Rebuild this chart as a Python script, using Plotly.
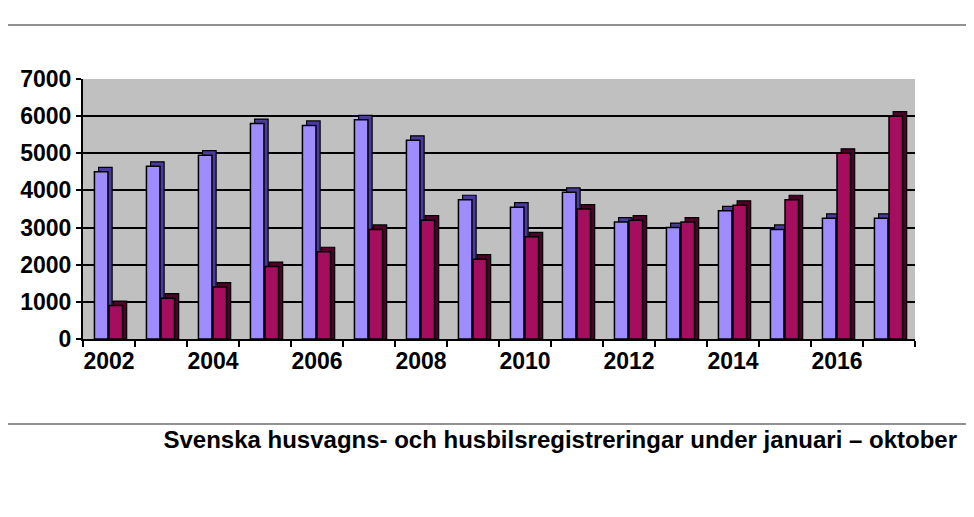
import plotly.graph_objects as go

# Registreringar per år, januari - oktober
years = list(range(2002, 2018))
husvagnar = [4500, 4650, 4950, 5800, 5750, 5900, 5350, 3750,
             3550, 3950, 3150, 3000, 3450, 2950, 3250, 3250]
husbilar = [900, 1100, 1400, 1950, 2350, 2950, 3200, 2150,
            2750, 3500, 3200, 3150, 3600, 3750, 5000, 6000]

year_labels = [str(y) for y in years[::2]]
y_ticks = list(range(0, 8000, 1000))

depth_y = 120      # fake 3D depth, in data units
depth_x = 0.08

fig = go.Figure()

series = [
    ("Husvagnar", husvagnar, -0.28, "#9f8cff", "#4a3c9c"),
    ("Husbilar", husbilar, 0.0, "#a50d5e", "#4e0029"),
]

for name, vals, off, col, dark in series:
    # side/top face behind the front face
    fig.add_trace(go.Bar(
        x=years, y=[v + depth_y for v in vals],
        offset=off + depth_x, width=0.26,
        marker=dict(color=dark, line=dict(color="black", width=1.2)),
        hoverinfo="skip", showlegend=False,
    ))
    fig.add_trace(go.Bar(
        x=years, y=vals, name=name,
        offset=off, width=0.26,
        marker=dict(color=col, line=dict(color="black", width=1.5)),
        showlegend=False,
    ))

fig.update_layout(
    barmode="overlay",
    width=974, height=517,
    margin=dict(l=73, r=67, t=71, b=186),
    plot_bgcolor="#c0c0c0",
    paper_bgcolor="white",
    font=dict(family="Arial, Liberation Sans, sans-serif", size=23, color="black"),
    title=dict(
        text="<b>Svenska husvagns- och husbilsregistreringar under januari – oktober</b>",
        font=dict(size=24, color="black"),
        xref="container", x=949 / 974, xanchor="right",
        yref="container", y=1 - 432 / 517, yanchor="middle",
    ),
    xaxis=dict(
        range=[2001.5, 2017.5],
        tickvals=years[::2],
        ticktext=["<b>%s</b>" % t for t in year_labels],
        ticks="",
        showgrid=False,
        showline=True, linecolor="black", linewidth=2,
        minor=dict(tickvals=[y - 0.5 for y in years] + [years[-1] + 0.5],
                   ticks="outside", ticklen=6, tickwidth=2, tickcolor="black"),
    ),
    yaxis=dict(
        range=[0, 7000],
        tickvals=y_ticks,
        ticktext=["<b>%d</b>" % t for t in y_ticks],
        ticks="outside", ticklen=5, tickwidth=2, tickcolor="black",
        showgrid=True, gridcolor="black", gridwidth=2,
        zeroline=False,
        showline=True, linecolor="black", linewidth=2,
    ),
    shapes=[
        dict(type="line", xref="paper", yref="paper",
             x0=-81 / 834, x1=893 / 834, y0=(339 - 25) / 260, y1=(339 - 25) / 260,
             line=dict(color="#6e6e6e", width=1.5)),
        dict(type="line", xref="paper", yref="paper",
             x0=-81 / 834, x1=893 / 834, y0=(339 - 424) / 260, y1=(339 - 424) / 260,
             line=dict(color="#6e6e6e", width=1.5)),
    ],
)

fig.write_html("out.html")
